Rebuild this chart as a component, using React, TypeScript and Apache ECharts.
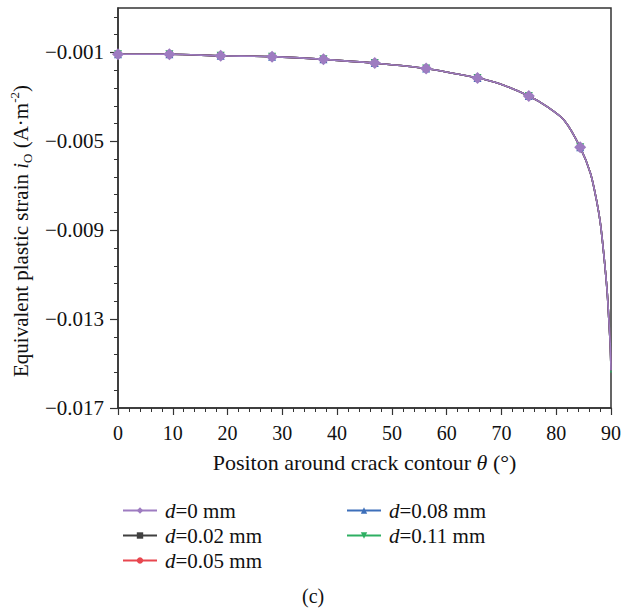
import React, { useEffect, useRef } from "react";
import * as echarts from "echarts";

const theta = [0, 9.375, 18.75, 28.125, 37.5, 46.875, 56.25, 65.625, 69.4, 75, 78.4, 81.45, 84.375, 86.26, 87.47, 88.07, 88.67, 89.28, 89.58, 89.88, 90];
const markedTheta = [0, 9.375, 18.75, 28.125, 37.5, 46.875, 56.25, 65.625, 75, 84.375];

const d0 = [-0.00108, -0.00108, -0.00115, -0.00119, -0.00131, -0.00148, -0.00172, -0.00215, -0.00239, -0.00296, -0.00345, -0.00405, -0.00527, -0.00645, -0.0078, -0.0087, -0.01005, -0.0117, -0.0129, -0.01426, -0.0153];
const d002 = [-0.00108, -0.00108, -0.00115, -0.00119, -0.00131, -0.00148, -0.00172, -0.00215, -0.00239, -0.00296, -0.00345, -0.00405, -0.00527, -0.00645, -0.0078, -0.0087, -0.01005, -0.0117, -0.0129, -0.01426, -0.0153];
const d005 = [-0.00108, -0.00108, -0.00115, -0.00119, -0.00131, -0.00148, -0.00172, -0.00215, -0.00239, -0.00296, -0.00345, -0.00405, -0.00527, -0.00645, -0.0078, -0.0087, -0.01005, -0.0117, -0.0129, -0.01426, -0.0153];
const d008 = [-0.00108, -0.00108, -0.00115, -0.00119, -0.00131, -0.00148, -0.00172, -0.00215, -0.00239, -0.00296, -0.00345, -0.00405, -0.00527, -0.00645, -0.0078, -0.0087, -0.01005, -0.0117, -0.0129, -0.01426, -0.0153];
const d011 = [-0.00108, -0.00108, -0.00115, -0.00119, -0.00131, -0.00148, -0.00172, -0.00215, -0.00239, -0.00296, -0.00345, -0.00405, -0.00527, -0.00645, -0.0078, -0.0087, -0.01005, -0.0117, -0.0129, -0.01426, -0.0154];

const seriesNames = ["d=0 mm", "d=0.02 mm", "d=0.05 mm", "d=0.08 mm", "d=0.11 mm"];
const yMajorTicks = [-0.017, -0.013, -0.009, -0.005, -0.001];
const yMinorTicks = [-0.0162, -0.0154, -0.0146, -0.0138, -0.0122, -0.0114, -0.0106, -0.0098, -0.0082, -0.0074, -0.0066, -0.0058, -0.0042, -0.0034, -0.0026, -0.0018, -0.0002, 0.0006];

const FONT = "Liberation Serif";

function buildData(vals: number[]) {
  return theta.map((t, i) => {
    const marked = markedTheta.indexOf(t) >= 0;
    return marked ? { value: [t, vals[i]] } : { value: [t, vals[i]], symbol: "none" };
  });
}

export default function App() {
  const ref = useRef<HTMLDivElement>(null);
  useEffect(() => {
    const chart = echarts.init(ref.current!, null, { renderer: "svg" });
    const nameRich = (fs: number) => ({
      n: { fontFamily: FONT, fontSize: fs, color: "#111", lineHeight: 26 },
      i: { fontFamily: FONT, fontSize: fs, fontStyle: "italic", color: "#111", lineHeight: 26 },
      sub: { fontFamily: FONT, fontSize: 13, color: "#111", verticalAlign: "bottom", lineHeight: 13 },
      sup: { fontFamily: FONT, fontSize: 13, color: "#111", verticalAlign: "top", lineHeight: 13 },
    });
    const mk = (name: string, vals: number[], color: string, symbol: string, size: number, rotate = 0) => ({
      name,
      type: "line",
      data: buildData(vals),
      smooth: 0.3,
      symbol,
      symbolSize: size,
      symbolRotate: rotate,
      lineStyle: { color, width: 1.6 },
      itemStyle: { color },
      color,
    });
    const legendText = {
      rich: {
        i: { fontFamily: FONT, fontSize: 21, fontStyle: "italic", color: "#111", padding: [0, 0, 0, 3] },
        n: { fontFamily: FONT, fontSize: 21, color: "#111" },
      },
      lineHeight: 20,
    };
    const legendFormatter = (name: string) => `{i|d}{n|${name.slice(1)}}`;
    const legendBase = {
      orient: "vertical",
      top: 495,
      itemWidth: 34,
      itemHeight: 8,
      itemGap: 4,
      textStyle: legendText,
      formatter: legendFormatter,
    };
    chart.setOption({
      animation: false,
      grid: {
        left: 116,
        right: 10,
        top: 8,
        bottom: 204,
        show: true,
        borderColor: "#333",
        borderWidth: 1.5,
      },
      legend: [
        { ...legendBase, data: seriesNames.slice(0, 3), left: 117 },
        { ...legendBase, data: seriesNames.slice(3), left: 341 },
      ],
      xAxis: {
        type: "value",
        min: 0,
        max: 90,
        interval: 10,
        name: "{n|Positon around crack contour }{i|θ}{n| (°)}",
        nameLocation: "middle",
        nameGap: 41,
        nameTextStyle: { rich: nameRich(22) },
        axisLine: { show: true, onZero: false, lineStyle: { color: "#333", width: 1.5 } },
        axisTick: { show: true, inside: false, length: 7, lineStyle: { color: "#333", width: 1.2 } },
        minorTick: { show: true, splitNumber: 5, length: 4, lineStyle: { color: "#333", width: 1 } },
        axisLabel: { fontFamily: FONT, fontSize: 20, color: "#111", margin: 15 },
        splitLine: { show: false },
      },
      yAxis: [
        {
          type: "value",
          min: -0.017,
          max: 0.001,
          position: "left",
          name: "{n|Equivalent plastic strain }{i|i}{sub|O}{n| (A·m}{sup|-2}{n|)}",
          nameLocation: "middle",
          nameGap: 78,
          nameTextStyle: { rich: nameRich(21), padding: [0, 46, 0, 0] },
          axisLine: { show: true, onZero: false, lineStyle: { color: "#333", width: 1.5 } },
          axisTick: { show: true, inside: false, length: 8, customValues: yMajorTicks, lineStyle: { color: "#333", width: 1.2 } },
          axisLabel: {
            customValues: yMajorTicks,
            fontFamily: FONT,
            fontSize: 21,
            color: "#111",
            margin: 14,
            formatter: (v: number) => v.toFixed(3).replace("-", "\u2212"),
          },
          splitLine: { show: false },
        },
        {
          type: "value",
          min: -0.017,
          max: 0.001,
          position: "left",
          offset: 0,
          axisLine: { show: false, onZero: false },
          axisTick: { show: true, inside: false, length: 4, customValues: yMinorTicks, lineStyle: { color: "#333", width: 1 } },
          axisLabel: { show: false },
          splitLine: { show: false },
        },
      ],
      series: [
        mk(seriesNames[4], d011, "#2eaf62", "triangle", 8, 180),
        mk(seriesNames[3], d008, "#3d6fba", "triangle", 8),
        mk(seriesNames[2], d005, "#e8474f", "circle", 7),
        mk(seriesNames[1], d002, "#404040", "rect", 6),
        mk(seriesNames[0], d0, "#9e7cc1", "diamond", 12),
      ],
      graphic: [
        {
          type: "text",
          left: 302,
          top: 586,
          style: { text: "(c)", fontFamily: FONT, fontSize: 20, fill: "#111" },
        },
      ],
    });
    return () => chart.dispose();
  }, []);
  return <div ref={ref} style={{ width: 624, height: 612, position: "absolute", left: 0, top: 0 }} />;
}
